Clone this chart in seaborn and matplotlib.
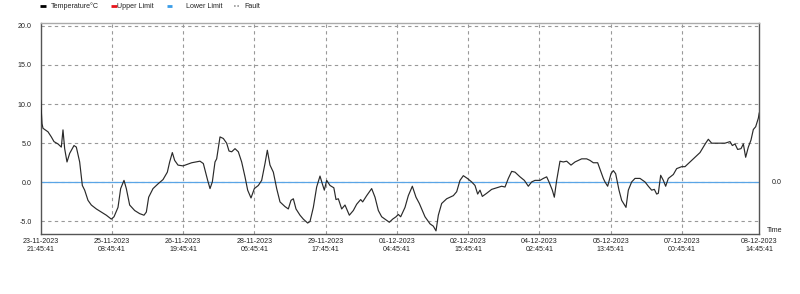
import matplotlib
matplotlib.use("Agg")
import matplotlib.pyplot as plt
from matplotlib.lines import Line2D
import seaborn as sns
import pandas as pd

# ---- data (hours since 23-11-2023 21:45:41, temperature °C) ----
hours = [0.0, 0.64, 1.13, 3.59, 5.22, 6.53, 8.50, 10.13, 10.95, 11.77, 12.92, 14.23, 16.36, 17.50,
         19.14, 20.45, 21.60, 23.23, 24.87, 27.33, 29.78, 32.24, 34.70, 36.01, 37.97, 39.28, 40.92,
         42.06, 43.70, 46.16, 48.62, 50.74, 51.89, 53.04, 55.17, 57.62, 60.08, 62.21, 63.35, 64.66,
         65.81, 67.45, 69.90, 74.16, 78.25, 79.89, 82.02, 83.17, 84.31, 85.62, 86.44, 88.08, 89.71,
         91.35, 92.50, 93.81, 95.45, 97.08, 98.72, 100.36, 101.67, 103.31, 104.94, 106.91, 108.55,
         110.18, 111.33, 112.64, 114.28, 115.92, 117.55, 120.01, 121.64, 122.95, 124.10, 125.41,
         127.38, 129.01, 131.14, 132.29, 133.93, 135.56, 137.20, 138.35, 139.33, 140.48, 142.11,
         144.0, 145.06, 146.21, 147.85, 149.48, 151.61, 153.57, 155.21, 157.18, 158.16, 160.13,
         162.58, 164.22, 165.86, 167.50, 169.13, 171.26, 172.90, 174.54, 175.68, 176.83, 178.96,
         180.59, 182.56, 184.36, 186.00, 188.78, 191.24, 192.87, 194.19, 195.33, 196.97, 199.43,
         202.70, 204.34, 205.97, 207.61, 209.58, 211.71, 213.34, 214.65, 215.80, 216.94, 219.07,
         221.53, 223.99, 226.44, 228.08, 229.72, 231.36, 232.99, 235.45, 237.58, 239.54, 241.18,
         242.82, 245.27, 246.91, 248.55, 249.69, 251.33, 252.31, 253.46, 255.09, 256.73, 258.37,
         260.50, 262.46, 265.74, 268.19, 269.83, 271.47, 273.60, 275.24, 276.38, 277.20, 278.51,
         280.15, 281.30, 282.44, 284.08, 285.39, 287.52, 288.66, 290.30, 291.94, 294.40, 296.85,
         298.49, 300.13, 301.44, 302.58, 303.40, 304.55, 305.86, 307.00, 308.31, 310.77, 312.41,
         314.86, 316.50, 318.96, 321.41, 323.87, 325.51, 326.65, 327.96, 329.60, 332.88, 336.15,
         338.61, 339.75, 341.06, 342.37, 344.01, 345.16, 346.30, 347.61, 348.92, 350.07, 351.22,
         352.53, 353.0]
temps = [10.5, 7.5, 6.9, 6.45, 5.8, 5.2, 4.9, 4.5, 6.7, 4.3, 2.6, 3.7, 4.7, 4.5,
         2.6, -0.4, -1.0, -2.3, -2.9, -3.4, -3.8, -4.2, -4.7, -4.4, -3.2, -0.8, 0.25,
         -0.8, -2.9, -3.6, -4.0, -4.2, -3.8, -1.9, -0.8, -0.2, 0.35, 1.3, 2.6, 3.8,
         2.8, 2.2, 2.1, 2.5, 2.7, 2.4, 0.25, -0.8, 0.05, 2.6, 3.0, 5.8, 5.6,
         5.0, 4.0, 3.9, 4.3, 3.9, 2.6, 0.7, -1.0, -2.0, -0.8, -0.4, 0.25,
         2.4, 4.1, 2.2, 1.3, -0.8, -2.5, -3.1, -3.4, -2.3, -2.1, -3.4,
         -4.2, -4.7, -5.2, -5.0, -3.2, -0.6, 0.8, -0.2, -1.0, 0.25, -0.4,
         -0.7, -2.2, -2.1, -3.4, -2.9, -4.2, -3.6, -2.8, -2.2, -2.5, -1.7,
         -0.8, -1.9, -3.6, -4.4, -4.7, -5.1, -4.7, -4.4, -4.1, -4.4, -3.2,
         -1.7, -0.5, -1.9, -2.7, -4.4, -5.3, -5.6, -6.2, -4.2, -2.7, -2.1,
         -1.7, -1.2, 0.25, 0.85, 0.5, 0.05, -0.4, -1.5, -1.0, -1.8, -1.4,
         -0.9, -0.7, -0.5, -0.6, 0.5, 1.4, 1.3, 0.7, 0.25, -0.5, 0.05,
         0.25, 0.25, 0.5, 0.7, 0.05, -1.0, -1.9, 0.25, 2.7, 2.6, 2.7,
         2.2, 2.6, 3.0, 3.0, 2.8, 2.5, 2.5, 1.3, 0.5, 0.05, -0.5,
         1.1, 1.5, 1.1, -1.0, -2.3, -3.2, -1.0, 0.05, 0.5, 0.5, 0.05,
         -0.5, -1.0, -0.9, -1.5, -1.4, 0.9, 0.25, -0.5, 0.5, 1.0, 1.75,
         2.0, 2.0, 2.6, 3.2, 3.8, 4.5, 5.0, 5.5, 5.0, 5.0, 5.0,
         5.2, 4.7, 4.9, 4.2, 4.3, 4.9, 3.2, 4.5, 5.4, 6.75, 7.1,
         8.2, 8.9]

lower_limit = 0.0
tick_hours = [0, 35, 70, 105, 140, 175, 210, 245, 280, 315, 353]
tick_labels = ["23-11-2023\n21:45:41", "25-11-2023\n08:45:41", "26-11-2023\n19:45:41",
               "28-11-2023\n06:45:41", "29-11-2023\n17:45:41", "01-12-2023\n04:45:41",
               "02-12-2023\n15:45:41", "04-12-2023\n02:45:41", "05-12-2023\n13:45:41",
               "07-12-2023\n00:45:41", "08-12-2023\n14:45:41"]
y_ticks = [-5, 0, 5, 10, 15, 20]
y_tick_labels = ["-5.0", "0.0", "5.0", "10.0", "15.0", "20.0"]
legend_labels = ["Temperature°C", "Upper Limit", "Lower Limit", "Fault"]
legend_colors = ["black", "#e8141b", "#3a9de8", "#999999"]

df = pd.DataFrame({"hours": hours, "temp": temps})

sns.set_style("white")
plt.rcParams["font.family"] = ["Liberation Sans", "DejaVu Sans"]
FS = 5.1
TXT = "#222222"

W, H = 800, 294
fig = plt.figure(figsize=(8, 2.94), dpi=100)
ax = fig.add_axes([40.7 / W, 1 - 234 / H, (759.3 - 40.7) / W, (234 - 23) / H])

grid_kw = dict(color="#999999", lw=0.8, dashes=(3, 3))
for t in tick_hours[1:-1]:
    ax.axvline(t, **grid_kw, zorder=1)
for y in y_ticks:
    ax.axhline(y, **grid_kw, zorder=1)

ax.axhline(lower_limit, color="#5aa5e6", lw=0.9, zorder=2)
sns.lineplot(data=df, x="hours", y="temp", ax=ax, color="#2a2a2a", lw=0.85, zorder=3,
             legend=False)

ax.set_xlim(0, 353)
ax.set_ylim(-6.6, 20.35)
ax.set_xticks(tick_hours)
ax.set_xticklabels(tick_labels, fontsize=FS, color=TXT, linespacing=1.15)
ax.set_yticks(y_ticks)
ax.set_yticklabels(y_tick_labels, fontsize=FS, color=TXT)
ax.tick_params(axis="x", length=2.5, width=0.8, color="#777777", pad=0.5, direction="out")
ax.tick_params(axis="y", length=4.5, width=0.8, color="#777777", pad=2, direction="out")
ax.set_xlabel("")
ax.set_ylabel("")

for side in ["left", "bottom", "right"]:
    ax.spines[side].set_color("#555555")
    ax.spines[side].set_linewidth(1.0)
ax.spines["top"].set_color("#aaaaaa")
ax.spines["top"].set_linewidth(1.0)

fig.text(777 / W, 1 - 183 / H, "0.0", fontsize=FS, color=TXT, ha="center", va="center")
fig.text(775 / W, 1 - 230 / H, "Time", fontsize=FS, color=TXT, ha="center", va="center")

# legend row (drawn manually to match irregular spacing)
handle_x = [(40, 46), (110.7, 117.3), (166.7, 171.7), (234, 239.3)]
text_x = [50.7, 117.3, 186, 244]
ly = 1 - 6 / H
for (x0, x1), tx, lab, col, k in zip(handle_x, text_x, legend_labels, legend_colors, range(4)):
    if k == 3:
        fig.add_artist(Line2D([x0 / W, x1 / W], [ly, ly], color=col, lw=1.2,
                              ls=(0, (1, 1)), transform=fig.transFigure))
    else:
        fig.add_artist(Line2D([x0 / W, x1 / W], [ly, ly], color=col, lw=2.0,
                              solid_capstyle="butt", transform=fig.transFigure))
    fig.text(tx / W, ly, lab, fontsize=FS, color=TXT, ha="left", va="center")

fig.savefig("out.png", dpi=100, facecolor="white")
